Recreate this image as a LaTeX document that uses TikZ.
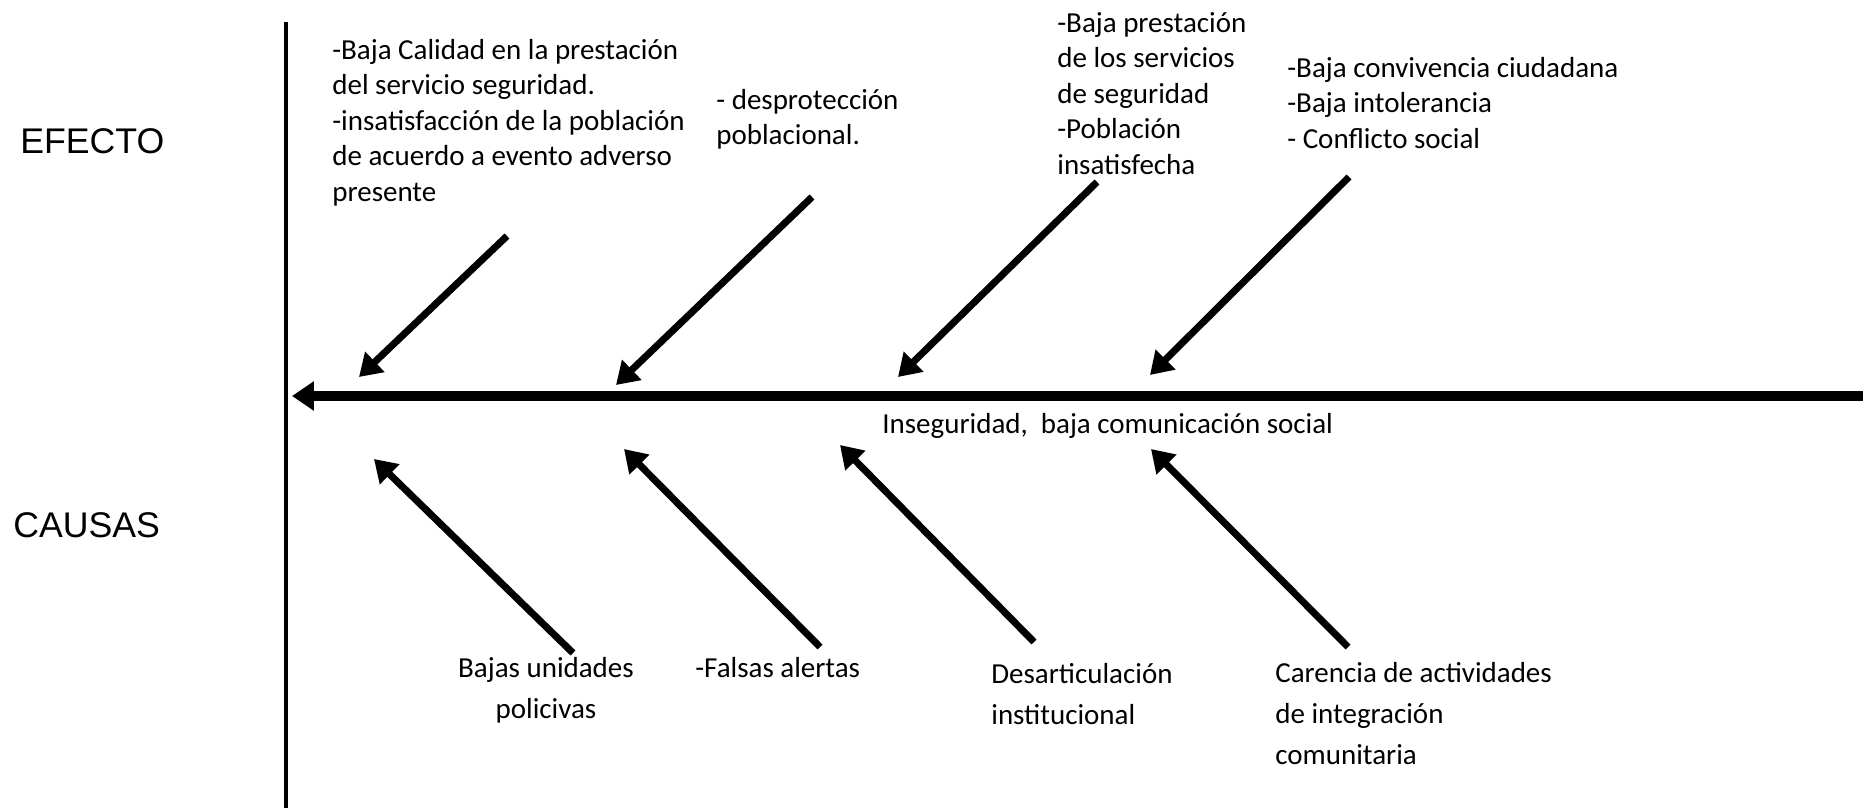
\documentclass[tikz,border=0pt]{standalone}
\usepackage{fontspec}
\setmainfont{Carlito}
\newfontfamily\arialfont{Liberation Sans}
\usetikzlibrary{arrows.meta}

\tikzset{
  txt/.style={inner sep=0pt, anchor=north west, align=left, font={\fontsize{16.5}{20.2}\selectfont}},
  causetxt/.style={txt, font={\fontsize{16.5}{23.4}\selectfont}},
  sidetxt/.style={inner sep=0pt, anchor=base west, font={\arialfont\fontsize{20.3}{24}\selectfont}},
  bone/.style={line width=4pt, -{Triangle[width=15.3pt,length=12.5pt]}},
  spine/.style={line width=5.4pt, -{Triangle[width=16pt,length=12.5pt]}}
}

\begin{document}
\begin{tikzpicture}[x=0.02cm,y=-0.02cm]
\useasboundingbox (0,0) rectangle (1863,808);

% side titles
\node[sidetxt] (efecto) at (20,153) {EFECTO};
\node[sidetxt] (causas) at (13,537) {CAUSAS};

% vertical bar and main spine
\draw[line width=2.5pt] (286,22) -- (286,808);
\coordinate (tail) at (1863,396);
\coordinate (head) at (292,396);
\draw[spine] (tail) -- (head);
\node[inner sep=0pt, anchor=base west, font={\fontsize{16.5}{20.2}\selectfont}] (prob) at (882,433) {Inseguridad,\ \ baja comunicación social};

% effects (top)
\node[txt] (ef1) at (332,39) {-Baja Calidad en la prestación\\del servicio seguridad.\\-insatisfacción de la población\\de acuerdo a evento adverso\\presente};
\node[txt] (ef2) at (716,89) {- desprotección\\poblacional.};
\node[txt] (ef3) at (1057,12) {-Baja prestación\\de los servicios\\de seguridad\\-Población\\insatisfecha};
\node[txt] (ef4) at (1287,57) {-Baja convivencia ciudadana\\-Baja intolerancia\\- Conflicto social};

\coordinate (fx1) at (507,236);  \coordinate (fxtip1) at (359,377);
\coordinate (fx2) at (812,197);  \coordinate (fxtip2) at (616,385);
\coordinate (fx3) at (1097,182); \coordinate (fxtip3) at (898,377);
\coordinate (fx4) at (1349,177); \coordinate (fxtip4) at (1150,375);

% causes (bottom)
\node[causetxt, anchor=north, align=center] (ca1) at (546,657) {Bajas unidades\\policivas};
\node[causetxt] (ca2) at (695,657) {-Falsas alertas};
\node[causetxt] (ca3) at (991,663) {Desarticulación\\institucional};
\node[causetxt] (ca4) at (1275,662) {Carencia de actividades\\de integración\\comunitaria};

\coordinate (cx1) at (573,653);  \coordinate (cxtip1) at (374,459);
\coordinate (cx2) at (820,647);  \coordinate (cxtip2) at (624,449);
\coordinate (cx3) at (1034,642); \coordinate (cxtip3) at (840,445);
\coordinate (cx4) at (1348,647); \coordinate (cxtip4) at (1151,449);

\foreach \i in {1,...,4} {
  \draw[bone] (fx\i) -- (fxtip\i);
  \draw[bone] (cx\i) -- (cxtip\i);
}

\end{tikzpicture}
\end{document}
